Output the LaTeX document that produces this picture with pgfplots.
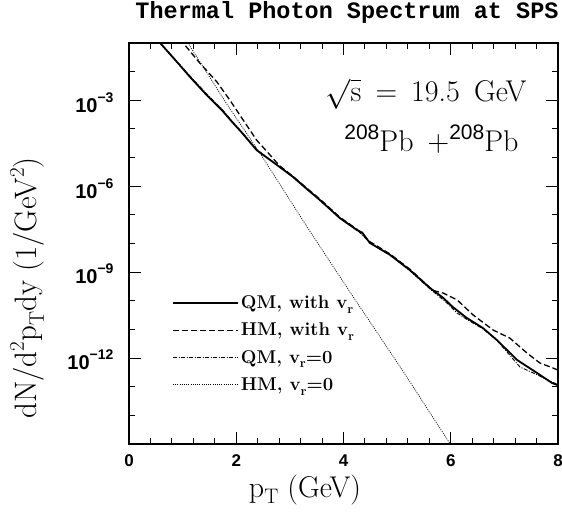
\RequirePackage{fix-cm}
\documentclass[border=0pt]{standalone}
\usepackage{fontspec}
\usepackage{pgfplots}
\pgfplotsset{compat=1.18}
\newfontfamily\tickfont{Liberation Sans}
\newfontfamily\titlefont{Liberation Mono}
\newcommand\ex[1]{\raisebox{0.5em}{\fontsize{14}{14}\selectfont #1}}
\newcommand\bigsup[1]{\raisebox{0.42em}{\fontsize{21}{21}\selectfont #1}}
\newcommand\bigsub[1]{\raisebox{-0.22em}{\fontsize{21}{21}\selectfont #1}}
\begin{document}
\begin{tikzpicture}[x=1pt,y=1pt]
\useasboundingbox (-129,-70) rectangle (433,444);
\begin{axis}[
  at={(0,0)}, anchor=south west,
  scale only axis, width=429pt, height=401pt,
  xmin=0, xmax=8, ymode=log, ymin=1e-15, ymax=1e-1,
  axis line style={line width=1.1pt},
  xtick={0,2,4,6,8}, minor x tick num=4,
  ytick={1e-12,1e-9,1e-6,1e-3},
  yticklabels={10\ex{−12},10\ex{−9},10\ex{−6},10\ex{−3}},
  minor ytick={1e-14,1e-13,1e-11,1e-10,1e-8,1e-7,1e-5,1e-4,1e-2},
  tick align=inside,
  major tick length=12pt, minor tick length=6pt,
  every tick/.style={line width=1pt, black},
  /pgf/number format/assume math mode=true,
  xticklabel style={font=\fontsize{17}{17}\selectfont\tickfont\bfseries, yshift=-7pt},
  yticklabel style={font=\fontsize{20}{20}\selectfont\tickfont\bfseries, xshift=-12pt, yshift=-2pt},
  legend cell align=left,
  legend style={draw=none, fill=none, at={(0.10,0.25)}, anchor=west, inner sep=0pt,
    font=\fontsize{18.5}{18.5}\selectfont\bfseries, row sep=9pt,
    /tikz/every even column/.append style={column sep=6pt}},
  legend image code/.code={\draw[#1] (0pt,0pt) -- (65pt,0pt);},
]
\addplot[black, line width=1.8pt] coordinates {
(0.52,1.349e-1) (0.58,1e-1) (0.86,2.57e-2) (1.14,6.46e-3) (1.45,1.51e-3)
(1.73,4.57e-4) (1.94,1.62e-4) (2.11,7.24e-5) (2.38,1.82e-5) (2.76,5.50e-6)
(3.06,2.09e-6) (3.38,6.31e-7) (3.56,3.31e-7) (3.93,7.76e-8) (4.25,2.95e-8)
(4.35,2.40e-8) (4.49,1.05e-8) (4.87,3.98e-9) (5.24,1.17e-9) (5.61,2.82e-10)
(5.86,1.26e-10) (6.04,6.03e-11) (6.30,2.51e-11) (6.60,1.12e-11) (6.86,4.27e-12)
(7.24,8.51e-13) (7.61,3.02e-13) (7.89,1.35e-13) (8.00,1.12e-13)};
\addlegendentry{QM, with v\raisebox{-0.25em}{\fontsize{13}{13}\selectfont r}}
\addplot[black, line width=1.3pt, dash pattern=on 6pt off 3pt] coordinates {
(0.95,1.41e-1) (1.01,1e-1) (1.32,2.00e-2) (1.64,4.37e-3) (1.88,1.02e-3)
(2.13,2.04e-4) (2.38,4.07e-5) (2.63,1.23e-5) (2.80,5.37e-6) (3.06,2.19e-6)
(3.38,6.76e-7) (3.56,3.55e-7) (3.93,8.32e-8) (4.25,3.16e-8) (4.49,1.17e-8)
(4.87,4.27e-9) (5.24,1.26e-9) (5.50,4.47e-10) (5.67,2.29e-10) (5.86,1.86e-10)
(6.12,1.07e-10) (6.42,3.16e-11) (6.79,9.55e-12) (7.10,5.01e-12) (7.42,1.51e-12)
(7.66,6.76e-13) (7.91,4.47e-13) (8.00,3.80e-13)};
\addlegendentry{HM, with v\raisebox{-0.25em}{\fontsize{13}{13}\selectfont r}}
\addplot[black, line width=0.9pt, dash pattern=on 4pt off 1.5pt on 1pt off 1.5pt] coordinates {
(0.52,1.38e-1) (0.58,1.02e-1) (0.86,2.69e-2) (1.14,6.92e-3) (1.45,1.66e-3)
(1.73,5.01e-4) (1.94,1.70e-4) (2.11,7.59e-5) (2.38,1.91e-5) (2.76,5.62e-6)
(3.06,2.14e-6) (3.38,6.61e-7) (3.56,3.16e-7) (3.93,7.94e-8) (4.25,3.02e-8)
(4.49,1.10e-8) (4.87,3.89e-9) (5.24,1.12e-9) (5.61,2.63e-10) (5.93,8.32e-11)
(6.12,3.72e-11) (6.30,2.24e-11) (6.60,1.05e-11) (6.86,4.17e-12) (7.29,4.90e-13)
(7.54,3.02e-13) (7.89,1.45e-13) (8.00,1.20e-13)};
\addlegendentry{QM, v\raisebox{-0.25em}{\fontsize{13}{13}\selectfont r}=0}
\addplot[black, line width=0.7pt, dash pattern=on 1pt off 1.2pt] coordinates {
(1.05,1.38e-1) (1.10,1e-1) (1.83,7.08e-4) (2.44,1.45e-5) (3.32,3.80e-8)
(4.18,1.38e-10) (5.10,3.72e-13) (5.99,1e-15) (6.02,8.1e-16)};
\addlegendentry{HM, v\raisebox{-0.25em}{\fontsize{13}{13}\selectfont r}=0}
\end{axis}
\node[anchor=base, font=\fontsize{23.5}{24}\selectfont\titlefont\bfseries] at (218,425) {Thermal Photon Spectrum at SPS};
\node[anchor=base, font=\fontsize{30}{32}\selectfont] at (176,-53) {p\bigsub{T} (GeV)};
\node[anchor=base, rotate=90, font=\fontsize{31}{33}\selectfont] at (-92,156) {dN/d\bigsup{2}p\bigsub{T}dy (1/GeV\bigsup{2})};
\node[anchor=base east, font=\fontsize{30}{32}\selectfont] at (401,342) {$\sqrt{\mathrm{s}}$ \,=\, 19.5 \,GeV};
\node[anchor=base east, font=\fontsize{30}{32}\selectfont] at (393,292) {\raisebox{0.42em}{\fontsize{21}{21}\selectfont\tickfont 208}Pb \,+\raisebox{0.42em}{\fontsize{21}{21}\selectfont\tickfont 208}Pb};
\end{tikzpicture}
\end{document}
